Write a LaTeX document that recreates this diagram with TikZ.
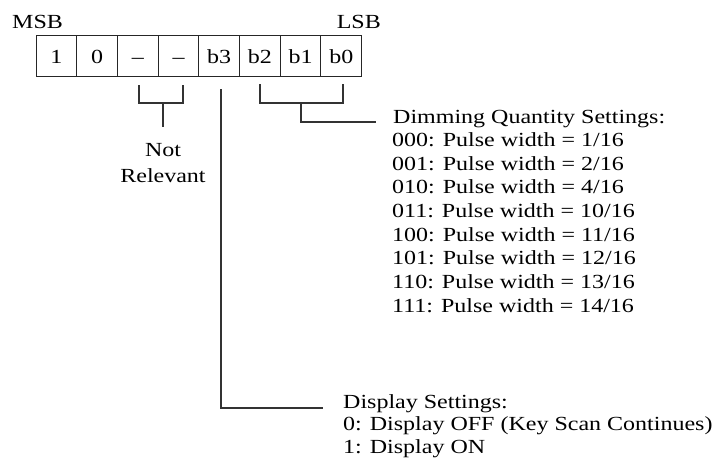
\documentclass[tikz,border=0pt]{standalone}
\usepackage{fontspec}
\setmainfont{Liberation Serif}[FakeStretch=1.2]

\begin{document}
\begin{tikzpicture}[x=1pt, y=-1pt, every node/.style={font=\fontsize{20}{24}\selectfont, inner sep=0pt},
	cell/.style={draw=black!85, line width=1pt, minimum width=40.7pt, minimum height=41pt, text height=16pt, text depth=0pt},
	wire/.style={draw=black!80, line width=1.3pt}]
	\useasboundingbox (0,0) rectangle (721,474);
	% register cells, MSB on the left
	\foreach \t [count=\i from 0] in {1, 0, --, --, b3, b2, b1, b0} {\node[cell] (c\i) at ({56.4+40.7*\i},55.5) {\t};}
	\node[anchor=base west] (msb) at (12,28) {MSB};
	\node[anchor=base east] (lsb) at (381,28) {LSB};
	% bracket under the unused bits
	\coordinate (nrL) at (139,85); \coordinate (nrR) at (183,85); \coordinate (nrJ) at (163,103);
	\draw[wire] (nrL) -- ++(0,18) -| (nrR);
	\draw[wire] (nrJ) -- ++(0,24);
	\node[anchor=base] (nr1) at (163,156) {Not};
	\node[anchor=base] (nr2) at (163,182.7) {Relevant};
	% bracket under b2..b0
	\coordinate (dimL) at (260,84); \coordinate (dimR) at (343,84); \coordinate (dimJ) at (301,103); \coordinate (dimEnd) at (376,122);
	\draw[wire] (dimL) -- ++(0,19) -| (dimR);
	\draw[wire] (dimJ) |- (dimEnd);
	\node[anchor=base west] (dimhead) at (393,123) {Dimming Quantity Settings:};
	\foreach \c/\w [count=\k] in {000/1, 001/2, 010/4, 011/10, 100/11, 101/12, 110/13, 111/14} {\node[anchor=base west] (dim\k) at (392,{123+23.65*\k}) {\c: Pulse width = \w/16};}
	% line from b3
	\coordinate (dspTop) at (221,89); \coordinate (dspEnd) at (323,408);
	\draw[wire] (dspTop) |- (dspEnd);
	\node[anchor=base west] (dsphead) at (343,408) {Display Settings:};
	\node[anchor=base west] (dsp0) at (343,430.5) {0: Display OFF (Key Scan Continues)};
	\node[anchor=base west] (dsp1) at (343,453) {1: Display ON};
\end{tikzpicture}
\end{document}
